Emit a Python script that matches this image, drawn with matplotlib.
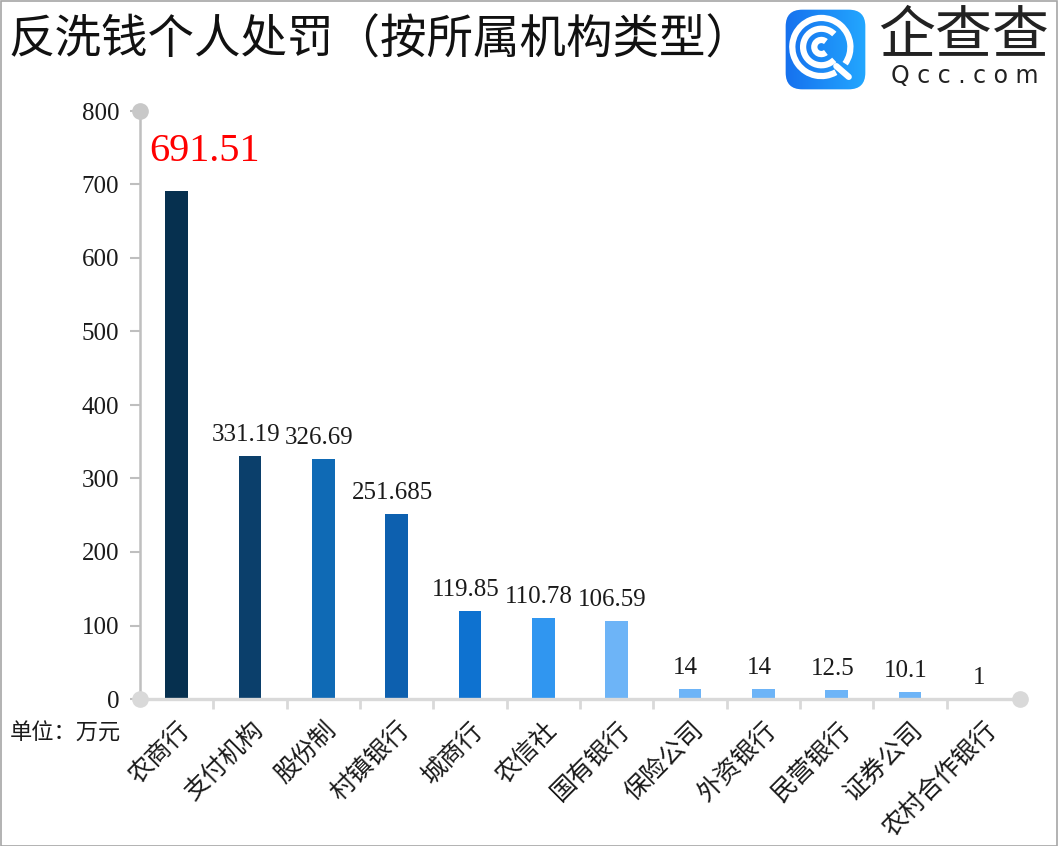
import numpy as np
import matplotlib
matplotlib.use('Agg')
import matplotlib.pyplot as plt
from matplotlib.patches import FancyBboxPatch, Arc, Rectangle

plt.rcParams['font.family'] = ['Liberation Serif', 'Noto Sans CJK SC', 'DejaVu Sans']

# 数据
categories = ['农商行', '支付机构', '股份制', '村镇银行', '城商行', '农信社', '国有银行',
              '保险公司', '外资银行', '民营银行', '证券公司', '农村合作银行']
values = [691.51, 331.19, 326.69, 251.685, 119.85, 110.78, 106.59, 14, 14, 12.5, 10.1, 1]
value_labels = ['691.51', '331.19', '326.69', '251.685', '119.85', '110.78', '106.59',
                '14', '14', '12.5', '10.1', '1']
bar_colors = ['#06304F', '#0B3F6B', '#0F6AB5', '#0D60AF', '#0E72D0', '#3096F0', '#6DB4F7',
              '#6DB4F7', '#6DB4F7', '#6DB4F7', '#6DB4F7', '#6DB4F7']
yticks = [0, 100, 200, 300, 400, 500, 600, 700, 800]

W, H = 1058, 846
fig = plt.figure(figsize=(W / 100, H / 100), dpi=100)
fig.patch.set_facecolor('white')

# 外框
fig.add_artist(Rectangle((0.5 / W, 0.5 / H), 1 - 1.5 / W, 1 - 1.5 / H, transform=fig.transFigure,
                         fill=False, edgecolor='#A6A6A6', linewidth=1.2))

# 主图
ax = fig.add_axes([140 / W, (H - 699) / H, (1020 - 140) / W, (699 - 111) / H])
x = np.arange(len(categories))
ax.bar(x, values, width=0.31, color=bar_colors, zorder=2)
ax.set_xlim(-0.5, len(categories) - 0.5)
ax.set_ylim(0, 800)

for s in ['top', 'right']:
    ax.spines[s].set_visible(False)
ax.spines['left'].set_color('#BFBFBF')
ax.spines['left'].set_linewidth(1.8)
ax.spines['bottom'].set_color('#D9D9D9')
ax.spines['bottom'].set_linewidth(2.4)

ax.set_yticks(yticks)
ax.set_yticklabels([str(v) for v in yticks], fontsize=18, color='#1a1a1a', family='Liberation Serif')
ax.tick_params(axis='y', length=7, width=1.5, color='#BFBFBF', pad=8)

ax.set_xticks(x)
ax.set_xticklabels(categories, rotation=45, ha='right', va='top', rotation_mode='anchor',
                   fontsize=18, color='#1a1a1a', family='Noto Sans CJK SC')
ax.tick_params(axis='x', length=0, pad=13)
ax.set_xticks(np.arange(0.5, len(categories) - 1, 1), minor=True)
ax.tick_params(axis='x', which='minor', length=7, width=2, color='#D9D9D9')

# 端点圆点
ax.plot([0], [1], 'o', ms=11, color='#C8C8C8', transform=ax.transAxes, clip_on=False, zorder=5)
ax.plot([0], [0], 'o', ms=11, color='#D9D9D9', transform=ax.transAxes, clip_on=False, zorder=5)
ax.plot([1], [0], 'o', ms=11, color='#D9D9D9', transform=ax.transAxes, clip_on=False, zorder=5)

# 数据标签
for i, (v, lab) in enumerate(zip(values, value_labels)):
    if i == 0:
        ax.annotate(lab, (i, v), xytext=(20, 15), textcoords='offset points', ha='center',
                    va='bottom', fontsize=29, color='#FF0000', family='Liberation Serif')
    else:
        ax.annotate(lab, (i, v), xytext=(-3, 7), textcoords='offset points', ha='center',
                    va='bottom', fontsize=18, color='#1a1a1a', family='Liberation Serif')

# 标题与单位
fig.text(8 / W, 1 - 40 / H, '反洗钱个人处罚（按所属机构类型）', fontsize=33.5, va='center', ha='left',
         color='#111111', family='Noto Sans CJK SC')
fig.text(10 / W, 1 - 733 / H, '单位：万元', fontsize=16, va='center', ha='left',
         color='#1a1a1a', family='Noto Sans CJK SC')

# 企查查 logo
lax = fig.add_axes([784 / W, (H - 91) / H, 83 / W, 83 / H])
lax.set_xlim(0, 1)
lax.set_ylim(0, 1)
lax.axis('off')
box = FancyBboxPatch((0.02, 0.02), 0.96, 0.96, boxstyle='round,pad=0,rounding_size=0.2',
                     facecolor='none', edgecolor='none')
lax.add_patch(box)
grad = np.linspace(0, 1, 256).reshape(1, -1)
cmap = matplotlib.colors.LinearSegmentedColormap.from_list('qcc', ['#1670EE', '#23A8FF'])
img = lax.imshow(grad, extent=(0, 1, 0, 1), cmap=cmap, aspect='auto')
img.set_clip_path(box)
cx, cy = 0.45, 0.53
lax.add_patch(Arc((cx, cy), 0.70, 0.70, theta1=-35, theta2=300, color='white', lw=4.5))
lax.add_patch(Arc((cx, cy), 0.44, 0.44, theta1=45, theta2=315, color='white', lw=4.5))
lax.add_patch(Arc((cx, cy), 0.17, 0.17, theta1=50, theta2=310, color='white', lw=4.5))
lax.plot([0.63, 0.78], [0.30, 0.17], color='white', lw=4.5, solid_capstyle='round')

fig.text(964 / W, 1 - 37 / H, '企查查', fontsize=41, ha='center', va='center',
         color='#222222', family='Noto Sans CJK SC', fontweight='medium')
fig.text(965 / W, 1 - 76 / H, 'Q c c . c o m', fontsize=17, ha='center', va='center',
         color='#222222', family='DejaVu Sans')

fig.savefig('out.png', dpi=100, facecolor='white')
